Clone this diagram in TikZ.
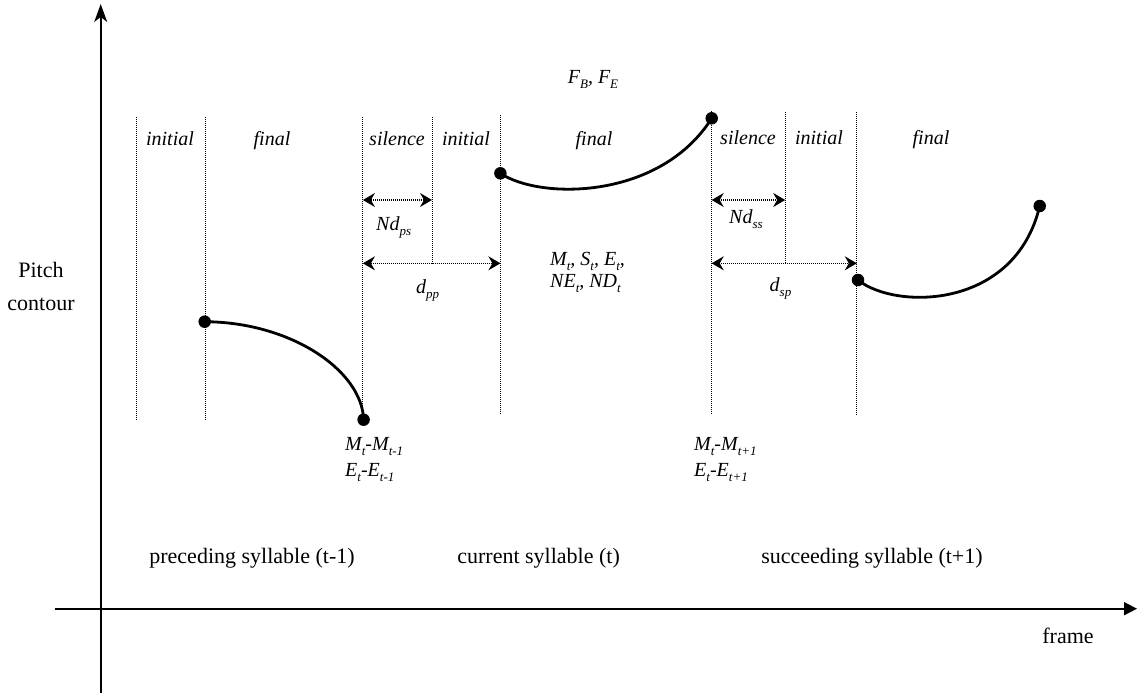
\documentclass[tikz,border=0pt]{standalone}
\usepackage{fontspec}
\setmainfont{Liberation Serif}
\usetikzlibrary{arrows.meta}
% lowered, smaller italic subscript
\newcommand\sbx[1]{\raisebox{-0.55ex}{\fontsize{13}{13}\selectfont\itshape #1}}
\begin{document}
\begin{tikzpicture}[x=1pt,y=-1pt,
  seg/.style={line width=1pt, dash pattern=on 1pt off 1pt},
  dim/.style={line width=1.1pt, dash pattern=on 1pt off 1pt,
    {Stealth[length=12pt,width=14pt,inset=4pt]}-{Stealth[length=12pt,width=14pt,inset=4pt]}},
  contour/.style={line width=2.8pt},
  pt/.style={circle, fill=black, inner sep=0pt, minimum size=12.5pt},
  part/.style={font=\fontsize{20}{24}\selectfont\itshape, inner sep=0pt, anchor=base},
  feat/.style={font=\fontsize{20}{24}\selectfont\itshape, inner sep=0pt, anchor=base west},
  plain/.style={font=\fontsize{22}{26}\selectfont, inner sep=0pt, anchor=base},
  axis/.style={line width=1.6pt}]
\useasboundingbox (0,0) rectangle (1137,693);

% axes
\coordinate (yb) at (100.7,693);
\coordinate (yt) at (100.7,4);
\coordinate (xl) at (54.5,608.7);
\coordinate (xr) at (1137,608.7);
\draw[axis,-{Stealth[length=18pt,width=13pt,inset=5pt]}] (yb) -- (yt);
\draw[axis,-{Triangle[length=13pt,width=13pt]}] (xl) -- (xr);
\node[plain] (pitch) at (41,277) {Pitch};
\node[plain] (contourlab) at (41,310) {contour};
\node[plain] (frame) at (1068,643) {frame};

% segment boundaries
\foreach \n/\x/\t/\b in {a/136.7/117/421, b/205.8/117/421, c/362.9/117/417,
    d/432/117/263.3, e/500.4/115/414, f/711.7/111/415, g/785.2/112/263.3,
    h/856.8/112/415}{
  \coordinate (\n t) at (\x,\t);
  \coordinate (\n b) at (\x,\b);
  \draw[seg] (\n t) -- (\n b);
}

% segment names
\node[part] (i1) at (170,145) {initial};
\node[part] (f1) at (272,145) {final};
\node[part] (s2) at (397,145) {silence};
\node[part] (i2) at (466,145) {initial};
\node[part] (f2) at (594,145) {final};
\node[part] (s3) at (748,144) {silence};
\node[part] (i3) at (819,144) {initial};
\node[part] (f3) at (931,144) {final};

% duration arrows
\coordinate (nps1) at (362.9,200);
\coordinate (nps2) at (432,200);
\coordinate (dpp1) at (362.9,263.3);
\coordinate (dpp2) at (500.4,263.3);
\coordinate (nss1) at (711.7,200);
\coordinate (nss2) at (785.2,200);
\coordinate (dsp1) at (711.7,263.3);
\coordinate (dsp2) at (856.8,263.3);
\draw[dim] (nps1) -- (nps2);
\draw[dim] (dpp1) -- (dpp2);
\draw[dim] (nss1) -- (nss2);
\draw[dim] (dsp1) -- (dsp2);
\node[feat] (ndps) at (376,230.5) {Nd\sbx{ps}};
\node[feat] (dpp) at (416,293) {d\sbx{pp}};
\node[feat] (ndss) at (729,223.5) {Nd\sbx{ss}};
\node[feat] (dsp) at (769.5,291.5) {d\sbx{sp}};

% pitch contours
\node[pt] (p1) at (204.7,321.7) {};
\node[pt] (p2) at (363.6,419.7) {};
\node[pt] (c1) at (500.4,173.3) {};
\node[pt] (c2) at (711.7,118.3) {};
\node[pt] (n1) at (858,280) {};
\node[pt] (n2) at (1039.7,206) {};
\draw[contour] (p1.center) .. controls (290,322) and (362,370) .. (p2.center);
\draw[contour] (c1.center) .. controls (540,200) and (660,200) .. (c2.center);
\draw[contour] (n1.center) .. controls (895,310) and (1015,310) .. (n2.center);

% features
\node[part] (fbfe) at (593,83.3) {F\sbx{B}, F\sbx{E}};
\node[feat] (mse) at (550,265) {M\sbx{t}, S\sbx{t}, E\sbx{t},};
\node[feat] (nend) at (550,287) {NE\sbx{t}, ND\sbx{t}};
\node[feat] (dm1) at (345,450) {M\sbx{t}-M\sbx{t-1}};
\node[feat] (de1) at (345,476) {E\sbx{t}-E\sbx{t-1}};
\node[feat] (dm2) at (694,450) {M\sbx{t}-M\sbx{t+1}};
\node[feat] (de2) at (694,476) {E\sbx{t}-E\sbx{t+1}};

% syllable names
\node[plain] (prev) at (252,563) {preceding syllable (t-1)};
\node[plain] (cur) at (538.6,563) {current syllable (t)};
\node[plain] (next) at (872,563) {succeeding syllable (t+1)};
\end{tikzpicture}
\end{document}
